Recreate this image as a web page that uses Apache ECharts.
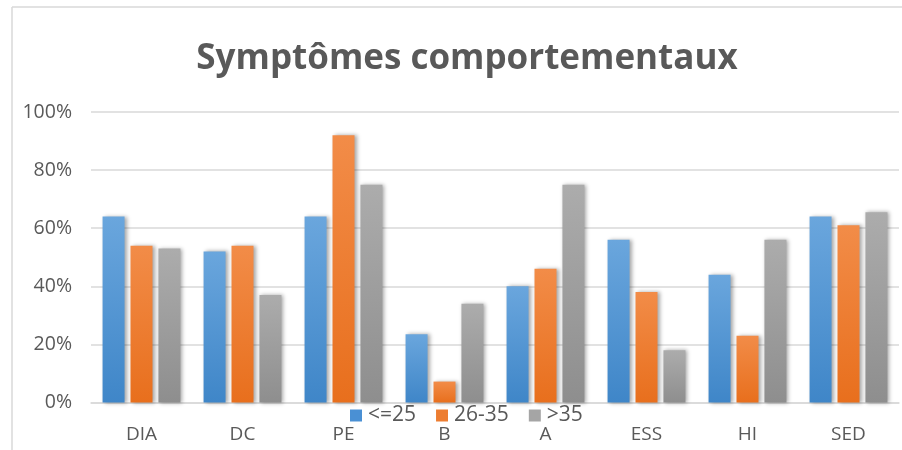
<!DOCTYPE html>
<html>
<head>
<meta charset="utf-8">
<style>
  html, body { margin: 0; padding: 0; background: #ffffff; }
  #chart { width: 902px; height: 450px; }
</style>
<script src="https://cdn.jsdelivr.net/npm/echarts@6/dist/echarts.min.js"></script>
</head>
<body>
<div id="chart"></div>
<script>
// Symptom categories and share of patients per age group (%)
const categories = ['DIA', 'DC', 'PE', 'B', 'A', 'ESS', 'HI', 'SED'];
const ageUpTo25 = [64, 52, 64, 23.5, 40, 56, 44, 64];
const age26to35 = [54, 54, 92, 7.2, 46, 38, 23, 61];
const ageOver35 = [53, 37, 75, 34, 75, 18, 56, 65.5];
const seriesNames = ['<=25', '26-35', '>35'];
const yTicks = [0, 20, 40, 60, 80, 100];

const FONT = '"Open Sans", "Noto Sans", sans-serif';

function grad(top, bottom) {
  return new echarts.graphic.LinearGradient(0, 0, 0, 1, [
    { offset: 0, color: top },
    { offset: 1, color: bottom }
  ]);
}

const styles = [
  { color: grad('#6aa6dd', '#3f86c8'), legend: '#4a90d4' },
  { color: grad('#f28c48', '#e86f1d'), legend: '#ed7d31' },
  { color: grad('#acacac', '#8e8e8e'), legend: '#a5a5a5' }
];
const dataSets = [ageUpTo25, age26to35, ageOver35];

const chart = echarts.init(document.getElementById('chart'), null, { renderer: 'canvas' });

chart.setOption({
  backgroundColor: '#ffffff',
  animation: false,
  title: {
    text: 'Symptômes comportementaux',
    left: 462,
    top: 37,
    textAlign: 'center',
    textStyle: { fontFamily: FONT, fontSize: 35, fontWeight: 'bold', color: '#595959' }
  },
  legend: {
    data: seriesNames.map((n, i) => ({ name: n, itemStyle: { color: styles[i].legend } })),
    left: 345,
    top: 400,
    itemWidth: 12,
    itemHeight: 12,
    itemGap: 20,
    icon: 'rect',
    textStyle: { fontFamily: FONT, fontSize: 21, color: '#595959', padding: [0, 0, 0, 1] }
  },
  graphic: [
    { type: 'line', shape: { x1: 12, y1: 7, x2: 902, y2: 7 }, style: { stroke: '#d9d9d9', lineWidth: 1.5 } },
    { type: 'line', shape: { x1: 12, y1: 7, x2: 12, y2: 450 }, style: { stroke: '#d9d9d9', lineWidth: 1.5 } }
  ],
  grid: { left: 91, right: 3, top: 112, bottom: 47.5, containLabel: false },
  xAxis: {
    type: 'category',
    data: categories,
    axisLine: { show: true, lineStyle: { color: '#d9d9d9', width: 1.5 } },
    axisTick: { show: false },
    axisLabel: { margin: 23, fontFamily: FONT, fontSize: 19, color: '#595959' }
  },
  yAxis: {
    type: 'value',
    min: yTicks[0],
    max: yTicks[yTicks.length - 1],
    interval: 20,
    axisLine: { show: false },
    axisTick: { show: false },
    splitLine: { lineStyle: { color: '#d9d9d9', width: 1.5 } },
    axisLabel: { margin: 19, fontFamily: FONT, fontSize: 19.5, color: '#595959', formatter: v => v + '%' }
  },
  series: dataSets.map((d, i) => ({
    name: seriesNames[i],
    type: 'bar',
    data: d,
    barWidth: 22,
    barGap: '27%',
    itemStyle: {
      color: styles[i].color,
      shadowColor: 'rgba(0,0,0,0.35)',
      shadowBlur: 4,
      shadowOffsetX: 2,
      shadowOffsetY: 0
    }
  }))
});
</script>
</body>
</html>
